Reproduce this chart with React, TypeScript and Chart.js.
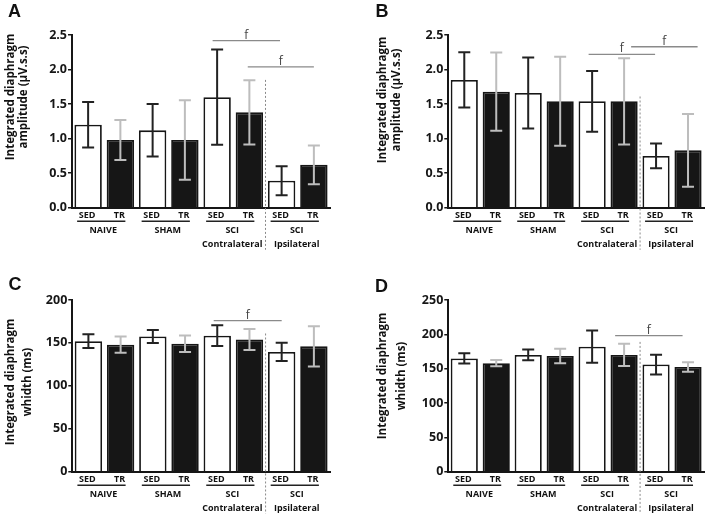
import { useEffect, useRef } from "react";
import { Chart, registerables } from "chart.js";

Chart.register(...registerables);

// bar order inside every panel: NAIVE, SHAM, SCI contralateral, SCI ipsilateral (SED then TR)
const barLabels = ["SED", "TR", "SED", "TR", "SED", "TR", "SED", "TR"];
const groupLabels = [["NAIVE"], ["SHAM"], ["SCI", "Contralateral"], ["SCI", "Ipsilateral"]];

// A - integrated diaphragm amplitude (µV.s.s)
const ampA = [1.2, 0.98, 1.12, 0.98, 1.6, 1.38, 0.39, 0.62];
const ampAErr = [0.33, 0.29, 0.38, 0.575, 0.69, 0.465, 0.21, 0.28];
// B - integrated diaphragm amplitude (µV.s.s)
const ampB = [1.85, 1.68, 1.66, 1.54, 1.54, 1.54, 0.75, 0.83];
const ampBErr = [0.4, 0.565, 0.515, 0.645, 0.44, 0.625, 0.18, 0.525];
// C - integrated diaphragm width (ms)
const widthC = [152, 148, 157.5, 149, 158.5, 154, 139.5, 146];
const widthCErr = [8, 9.5, 7.5, 9.7, 12.2, 12.2, 10.6, 23.5];
// D - integrated diaphragm width (ms)
const widthD = [165, 158, 170, 168.5, 182, 170, 156, 152.5];
const widthDErr = [7.5, 4.5, 7.8, 10.6, 23.5, 16.2, 14.3, 7];

// significance brackets: [from bar, to bar, level]
const sigA = [[3.86, 5.95, 2.42], [4.95, 7.0, 2.04]];
const sigB = [[3.89, 5.97, 2.22], [5.22, 7.3, 2.33]];
const sigC = [[3.89, 6.0, 176]];
const sigD = [[4.72, 6.83, 198]];

// top of the dashed contralateral / ipsilateral separator
const sepTop = { A: 1.85, B: 1.61, C: 161, D: 189 };

const FONT = "'Open Sans', Lato, sans-serif";

type Panel = {
  letter: string;
  values: number[];
  errors: number[];
  sig: number[][];
  sepTop: number;
  yMax: number;
  yStep: number;
  decimals: number;
  title: string[];
  // layout
  left: number;
  top: number;
  w: number;
  h: number;
  axisW: number;
  padTop: number;
  padRight: number;
  chartBottom: number;
  letterPos: [number, number];
  titleX: [number, number];
  titleY: number;
};

const panels: Panel[] = [
  {
    letter: "A", values: ampA, errors: ampAErr, sig: sigA, sepTop: sepTop.A,
    yMax: 2.5, yStep: 0.5, decimals: 1,
    title: ["Integrated diaphragm", "amplitude (µV.s.s)"],
    left: 0, top: 0, w: 350, h: 260, axisW: 72, padTop: 35, padRight: 20, chartBottom: 207.7,
    letterPos: [14.5, 12], titleX: [10.5, 24], titleY: 97,
  },
  {
    letter: "B", values: ampB, errors: ampBErr, sig: sigB, sepTop: sepTop.B,
    yMax: 2.5, yStep: 0.5, decimals: 1,
    title: ["Integrated diaphragm", "amplitude (µV.s.s)"],
    left: 350, top: 0, w: 357, h: 260, axisW: 98.3, padTop: 35, padRight: 3, chartBottom: 207.7,
    letterPos: [32, 12], titleX: [33, 47], titleY: 100,
  },
  {
    letter: "C", values: widthC, errors: widthCErr, sig: sigC, sepTop: sepTop.C,
    yMax: 200, yStep: 50, decimals: 0,
    title: ["Integrated diaphragm", "whidth (ms)"],
    left: 0, top: 260, w: 350, h: 256, axisW: 72.3, padTop: 40, padRight: 20, chartBottom: 211.7,
    letterPos: [15, 25.5], titleX: [11, 28], titleY: 122,
  },
  {
    letter: "D", values: widthD, errors: widthDErr, sig: sigD, sepTop: sepTop.D,
    yMax: 250, yStep: 50, decimals: 0,
    title: ["Integrated diaphragm", "whidth (ms)"],
    left: 350, top: 260, w: 357, h: 256, axisW: 98.3, padTop: 40, padRight: 3, chartBottom: 211.7,
    letterPos: [31.5, 27], titleX: [33, 52], titleY: 116,
  },
];

function overlay(p: Panel) {
  return {
    id: "overlay" + p.letter,
    afterDatasetsDraw(chart: any) {
      const { ctx } = chart;
      const ys = chart.scales.y;
      const meta = chart.getDatasetMeta(0);
      ctx.save();
      ctx.lineWidth = 2;
      p.values.forEach((v, i) => {
        const x = meta.data[i].x;
        const hi = ys.getPixelForValue(v + p.errors[i]);
        const lo = ys.getPixelForValue(v - p.errors[i]);
        ctx.strokeStyle = i % 2 === 0 ? "#222" : "#bdbdbd";
        ctx.beginPath();
        ctx.moveTo(x, hi);
        ctx.lineTo(x, lo);
        ctx.moveTo(x - 6, hi);
        ctx.lineTo(x + 6, hi);
        ctx.moveTo(x - 6, lo);
        ctx.lineTo(x + 6, lo);
        ctx.stroke();
      });
      ctx.restore();
    },
    afterDraw(chart: any) {
      const { ctx, chartArea } = chart;
      const xs = chart.scales.x;
      const ys = chart.scales.y;
      const b = chartArea.bottom;
      ctx.save();

      // panel letter
      ctx.fillStyle = "#111";
      ctx.font = `bold 18px 'Liberation Sans', Arial, sans-serif`;
      ctx.textAlign = "center";
      ctx.textBaseline = "middle";
      ctx.fillText(p.letter, p.letterPos[0], p.letterPos[1]);

      // y title (rotated)
      ctx.font = `bold 11.5px ${FONT}`;
      p.title.forEach((t, k) => {
        ctx.save();
        ctx.translate(p.titleX[k], p.titleY);
        ctx.rotate(-Math.PI / 2);
        ctx.fillText(t, 0, 0);
        ctx.restore();
      });

      // bar labels
      ctx.font = `bold 9px ${FONT}`;
      barLabels.forEach((t, i) => {
        ctx.fillText(t, xs.getPixelForValue(i) - 1, b + 8);
      });

      // group underlines and names
      ctx.strokeStyle = "#222";
      ctx.lineWidth = 1.5;
      groupLabels.forEach((lines, k) => {
        const x1 = xs.getPixelForValue(2 * k);
        const x2 = xs.getPixelForValue(2 * k + 1);
        ctx.beginPath();
        ctx.moveTo(x1 - 11, b + 13.5);
        ctx.lineTo(x2 + 5, b + 13.5);
        ctx.stroke();
        lines.forEach((t, j) => {
          ctx.fillText(t, (x1 + x2) / 2 - 1, b + 23 + j * 14);
        });
      });

      // dashed separator between contralateral and ipsilateral
      const sx = xs.getPixelForValue(5.5);
      ctx.strokeStyle = "#8a8a8a";
      ctx.lineWidth = 1;
      ctx.setLineDash([2, 2]);
      ctx.beginPath();
      ctx.moveTo(sx, ys.getPixelForValue(p.sepTop));
      ctx.lineTo(sx, b + 42);
      ctx.stroke();
      ctx.setLineDash([]);

      // significance brackets
      ctx.strokeStyle = "#8a8a8a";
      ctx.lineWidth = 1.3;
      ctx.fillStyle = "#444";
      ctx.font = `12px ${FONT}`;
      ctx.textBaseline = "alphabetic";
      p.sig.forEach(([from, to, level]) => {
        const xa = xs.getPixelForValue(from);
        const xb = xs.getPixelForValue(to);
        const yy = ys.getPixelForValue(level);
        ctx.beginPath();
        ctx.moveTo(xa, yy);
        ctx.lineTo(xb, yy);
        ctx.stroke();
        ctx.fillText("f", (xa + xb) / 2, yy - 2);
      });
      ctx.restore();
    },
  };
}

function PanelChart({ p }: { p: Panel }) {
  const ref = useRef<HTMLCanvasElement | null>(null);

  useEffect(() => {
    if (!ref.current) return;
    const chart = new Chart(ref.current, {
      type: "bar",
      data: {
        labels: barLabels,
        datasets: [
          {
            data: p.values,
            backgroundColor: p.values.map((_, i) => (i % 2 === 0 ? "#ffffff" : "#161616")),
            borderColor: "#161616",
            borderWidth: 1.8,
            barPercentage: 0.85,
            categoryPercentage: 1,
          },
        ],
      },
      options: {
        responsive: false,
        animation: false,
        layout: { padding: { top: p.padTop, right: p.padRight, left: 0, bottom: 0 } },
        plugins: { legend: { display: false }, tooltip: { enabled: false }, title: { display: false } },
        scales: {
          x: {
            grid: { display: false },
            ticks: { display: false },
            border: { display: true, color: "#161616", width: 2 },
            afterFit: (s: any) => {
              s.height = p.h - p.chartBottom;
            },
          },
          y: {
            min: 0,
            max: p.yMax,
            ticks: {
              stepSize: p.yStep,
              padding: 1,
              color: "#161616",
              font: { family: FONT, size: 12.5, weight: "bold" },
              callback: (v: any) => Number(v).toFixed(p.decimals),
            },
            grid: { drawOnChartArea: false, drawTicks: true, tickLength: 4, color: "#161616", lineWidth: 1.5 },
            border: { display: true, color: "#161616", width: 2 },
            afterFit: (s: any) => {
              s.width = p.axisW;
            },
          },
        },
      },
      plugins: [overlay(p)],
    });
    return () => chart.destroy();
  }, [p]);

  return (
    <canvas
      ref={ref}
      width={p.w}
      height={p.h}
      style={{ position: "absolute", left: p.left, top: p.top, width: p.w, height: p.h }}
    />
  );
}

export default function App() {
  return (
    <div style={{ position: "absolute", left: 0, top: 0, width: 707, height: 516, background: "#fff" }}>
      {panels.map((p) => (
        <PanelChart key={p.letter} p={p} />
      ))}
    </div>
  );
}
